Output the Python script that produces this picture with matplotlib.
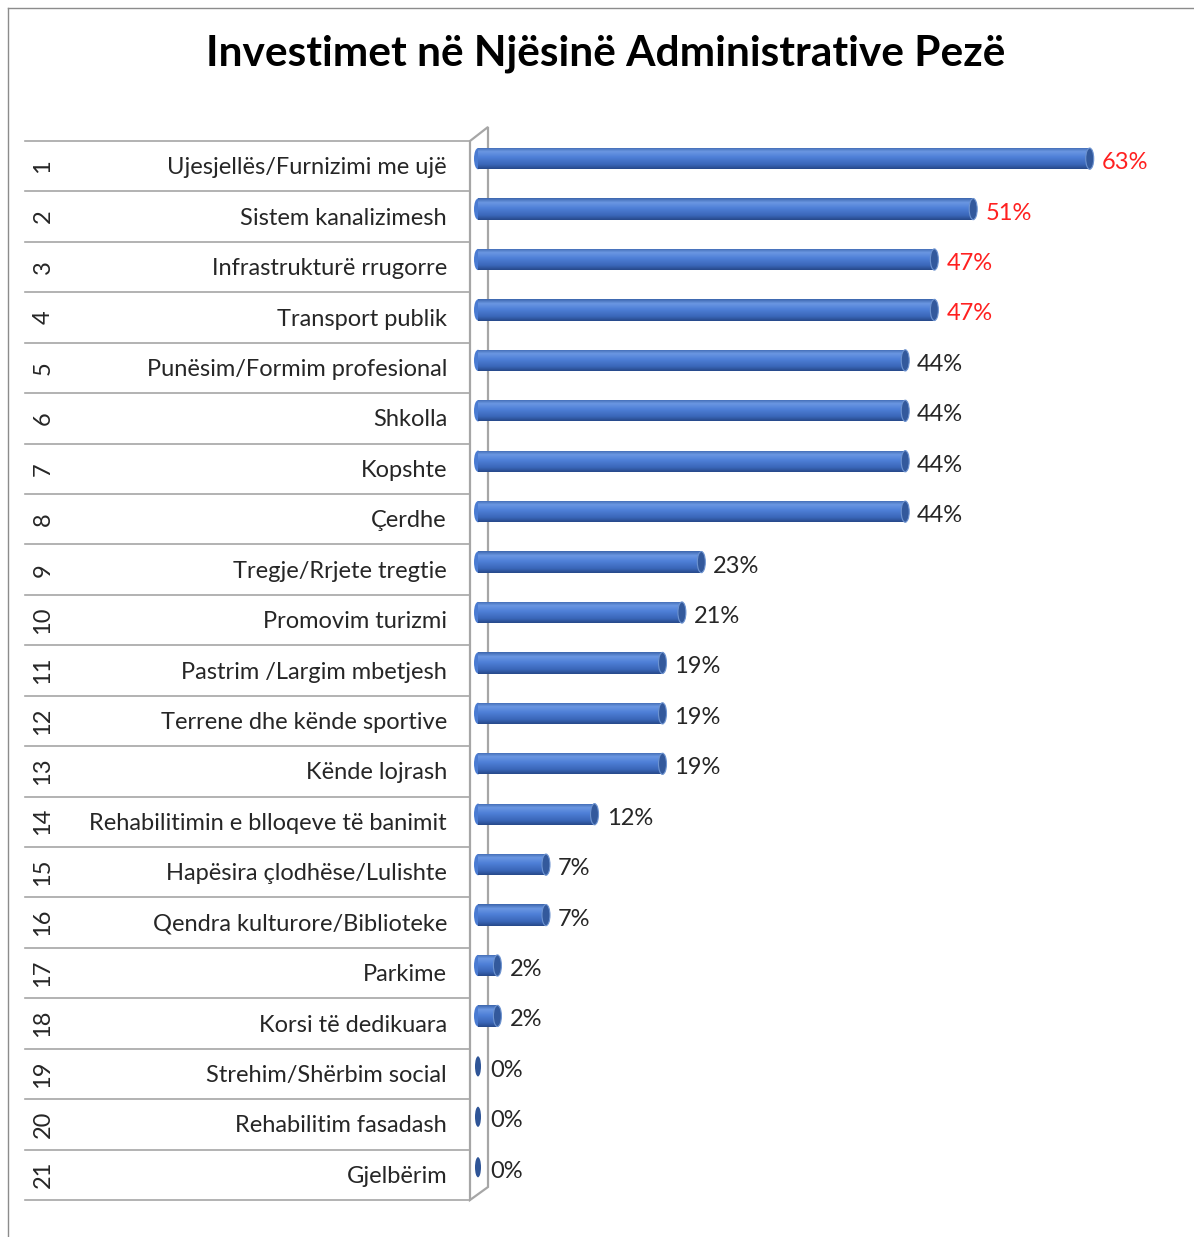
import matplotlib
matplotlib.use("Agg")
import matplotlib.pyplot as plt
import numpy as np
from matplotlib.patches import Ellipse, Polygon
from matplotlib.lines import Line2D
from matplotlib.colors import LinearSegmentedColormap

plt.rcParams['font.family'] = ['Lato', 'DejaVu Sans']

title = "Investimet në Njësinë Administrative Pezë"
categories = [
    "Ujesjellës/Furnizimi me ujë", "Sistem kanalizimesh", "Infrastrukturë rrugorre",
    "Transport publik", "Punësim/Formim profesional", "Shkolla", "Kopshte", "Çerdhe",
    "Tregje/Rrjete tregtie", "Promovim turizmi", "Pastrim /Largim mbetjesh",
    "Terrene dhe kënde sportive", "Kënde lojrash", "Rehabilitimin e blloqeve të banimit",
    "Hapësira çlodhëse/Lulishte", "Qendra kulturore/Biblioteke", "Parkime",
    "Korsi të dedikuara", "Strehim/Shërbim social", "Rehabilitim fasadash", "Gjelbërim",
]
values = [63, 51, 47, 47, 44, 44, 44, 44, 23, 21, 19, 19, 19, 12, 7, 7, 2, 2, 0, 0, 0]
ranks = list(range(1, len(categories) + 1))

W, H = 1194, 1237
fig = plt.figure(figsize=(W / 100, H / 100), dpi=100)


def fx(x):
    return x / W


def fy(y):
    return 1 - y / H


# outer frame (cropped chart border)
fig.add_artist(Line2D([fx(8), fx(8)], [fy(8), fy(1237)], color='#8c8c8c', lw=1))
fig.add_artist(Line2D([fx(8), fx(1194)], [fy(8), fy(8)], color='#8c8c8c', lw=1))

fig.text(fx(606), fy(54), title, ha='center', va='center',
         fontsize=30.5, fontweight='bold', color='black')

top, bottom = 141, 1200
x0px, pxper = 478, 9.71
n = len(categories)

# 3D wall
wall = Polygon([(fx(470), fy(141)), (fx(488), fy(127)), (fx(488), fy(1187)), (fx(470), fy(1200))],
               closed=True, transform=fig.transFigure, facecolor='white',
               edgecolor='#a6a6a6', lw=1.6, zorder=0)
fig.add_artist(wall)

# table axes
tax = fig.add_axes([fx(25), fy(bottom), fx(470) - fx(25), fy(top) - fy(bottom)])
tax.set_xlim(0, 445)
tax.set_ylim(n, 0)
tax.axis('off')
for i in range(n + 1):
    tax.plot([0, 445], [i, i], color='#a6a6a6', lw=1.2, clip_on=False)
for i, (r, c) in enumerate(zip(ranks, categories)):
    tax.text(18, i + 0.5, str(r), rotation=90, ha='center', va='center',
             fontsize=17, color='#262626')
    tax.text(422, i + 0.53, c, ha='right', va='center', fontsize=17, color='#262626')

# bar axes
axw = 1190 - x0px
ax = fig.add_axes([fx(x0px), fy(bottom), axw / W, fy(top) - fy(bottom)])
ax.set_xlim(0, axw / pxper)
ax.set_ylim(n, 0)
ax.axis('off')
ax.patch.set_alpha(0)

cmap = LinearSegmentedColormap.from_list('cyl', [
    (0.0, '#3c66ad'), (0.2, '#6b97e2'), (0.45, '#4f80d8'), (0.8, '#3a66b8'), (1.0, '#27498a')])
grad = np.linspace(0, 1, 64).reshape(-1, 1)

ypos = np.arange(n) + 0.5 - 0.15
bh = 0.42
capw = 8 / pxper
bars = ax.barh(ypos, values, height=bh, color='none', edgecolor='none', zorder=3)
for b, v, y in zip(bars, values, ypos):
    if v > 0:
        ax.add_patch(Ellipse((0, y), capw, bh, facecolor='#4a7bd2', edgecolor='none',
                             zorder=2, clip_on=False))
        im = ax.imshow(grad, extent=(0, v, y + bh / 2, y - bh / 2), aspect='auto',
                       cmap=cmap, zorder=3, interpolation='bilinear')
        im.set_clip_path(b)
        ax.add_patch(Ellipse((v, y), capw, bh, facecolor='#33599c', edgecolor='#6d93d0',
                             lw=0.8, zorder=4))
    else:
        ax.add_patch(Ellipse((0, y), 6 / pxper, bh * 0.95, facecolor='#2f5597',
                             edgecolor='none', zorder=4, clip_on=False))
    col = '#ff2020' if v >= 47 else '#262626'
    ax.annotate(f"{v}%", (v, y), xytext=(12, -4), textcoords='offset pixels',
                ha='left', va='center', fontsize=17, color=col)
ax.set_xlim(0, axw / pxper)
ax.set_ylim(n, 0)

fig.savefig('out.png', dpi=100)
